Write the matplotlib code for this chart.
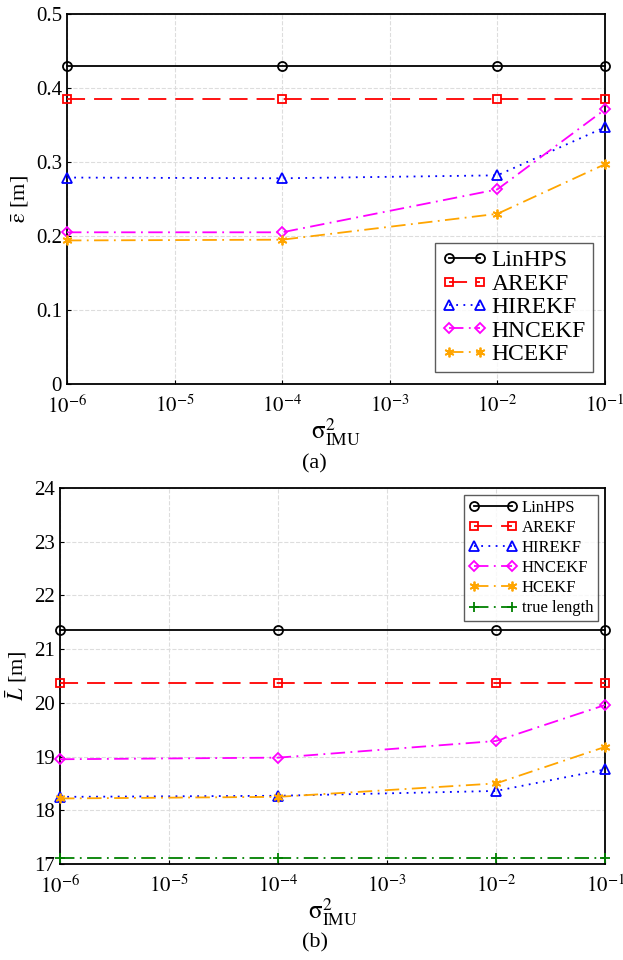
import numpy as np
import matplotlib
matplotlib.use('Agg')
import matplotlib.pyplot as plt

plt.rcParams['font.family'] = ['Liberation Serif', 'DejaVu Serif']
plt.rcParams['mathtext.fontset'] = 'stix'

# noise variance of the IMU
sigma2 = [1e-6, 1e-4, 1e-2, 1e-1]

# (a) mean position error [m]
err_linhps = [0.430, 0.430, 0.430, 0.430]
err_arekf = [0.385, 0.385, 0.385, 0.385]
err_hirekf = [0.279, 0.278, 0.282, 0.347]
err_hncekf = [0.205, 0.205, 0.263, 0.371]
err_hcekf = [0.194, 0.195, 0.230, 0.297]

# (b) mean length [m]
len_linhps = [21.36, 21.36, 21.36, 21.36]
len_arekf = [20.37, 20.37, 20.37, 20.37]
len_hirekf = [18.25, 18.27, 18.36, 18.76]
len_hncekf = [18.95, 18.98, 19.29, 19.96]
len_hcekf = [18.22, 18.25, 18.50, 19.18]
len_true = [17.11, 17.11, 17.11, 17.11]

styles = {
    'LinHPS': dict(color='black', ls='-', marker='o', ms=6.5),
    'AREKF': dict(color='red', ls=(0, (10, 5)), marker='s', ms=6),
    'HIREKF': dict(color='blue', ls=(0, (1, 3)), marker='^', ms=6.5),
    'HNCEKF': dict(color='#FF00FF', ls=(0, (8, 3, 1, 3)), marker='D', ms=5),
    'HCEKF': dict(color='#FFA500', ls=(0, (8, 3, 1, 3)), marker=(6, 2, 0), ms=7),
    'true length': dict(color='green', ls=(0, (8, 3, 1, 3)), marker='+', ms=7),
}


def draw(ax, series):
    for name, vals in series:
        st = styles[name]
        ax.plot(sigma2, vals, color=st['color'], ls=st['ls'], marker=st['marker'],
                mfc='none', mec=st['color'], ms=st['ms'], mew=1.3, lw=1.3,
                label=name, clip_on=False, zorder=3)
    ax.set_xscale('log')
    ax.set_xlim(1e-6, 1e-1)
    ax.set_xticks([1e-6, 1e-5, 1e-4, 1e-3, 1e-2, 1e-1])
    ax.set_xticklabels([r'$10^{-6}$', r'$10^{-5}$', r'$10^{-4}$',
                        r'$10^{-3}$', r'$10^{-2}$', r'$10^{-1}$'])
    ax.minorticks_off()
    ax.grid(True, ls='--', color='#dddddd', lw=0.8)
    ax.tick_params(direction='in', labelsize=15, length=3)
    ax.tick_params(axis='x', pad=8)
    ax.set_xlabel(r'$\mathrm{\sigma}^2_{\mathrm{IMU}}$', fontsize=18, labelpad=-1)
    for s in ax.spines.values():
        s.set_linewidth(1.3)


fig = plt.figure(figsize=(6.23, 9.6), dpi=100)

ax1 = fig.add_axes([0.1075, 0.6, 0.8636, 0.3854])
draw(ax1, [('LinHPS', err_linhps), ('AREKF', err_arekf), ('HIREKF', err_hirekf),
           ('HNCEKF', err_hncekf), ('HCEKF', err_hcekf)])
ax1.set_ylim(0, 0.5)
ax1.set_yticks([0, 0.1, 0.2, 0.3, 0.4, 0.5])
ax1.set_yticklabels(['0', '0.1', '0.2', '0.3', '0.4', '0.5'])
ax1.set_ylabel(r'$\bar{\mathrm{\epsilon}}$ [m]', fontsize=16, labelpad=4)
leg1 = ax1.legend(loc='lower right', fontsize=17, numpoints=2, handlelength=1.9,
                  fancybox=False, edgecolor='#333333', borderpad=0.3,
                  labelspacing=0.08, handletextpad=0.2, borderaxespad=0.5)
leg1.get_frame().set_linewidth(1.0)
fig.text(0.505, 0.517, '(a)', ha='center', va='center', fontsize=16)

ax2 = fig.add_axes([0.0963, 0.1, 0.875, 0.3917])
draw(ax2, [('LinHPS', len_linhps), ('AREKF', len_arekf), ('HIREKF', len_hirekf),
           ('HNCEKF', len_hncekf), ('HCEKF', len_hcekf), ('true length', len_true)])
ax2.set_ylim(17, 24)
ax2.set_yticks(range(17, 25))
ax2.set_ylabel(r'$\bar{L}$ [m]', fontsize=16, labelpad=4)
leg2 = ax2.legend(loc='upper right', fontsize=12, numpoints=2, handlelength=2.9,
                  fancybox=False, edgecolor='#333333', borderpad=0.3,
                  labelspacing=0.25, handletextpad=0.3, borderaxespad=0.4)
leg2.get_frame().set_linewidth(1.0)
fig.text(0.505, 0.0175, '(b)', ha='center', va='center', fontsize=16)

fig.savefig('out.png', dpi=100)
